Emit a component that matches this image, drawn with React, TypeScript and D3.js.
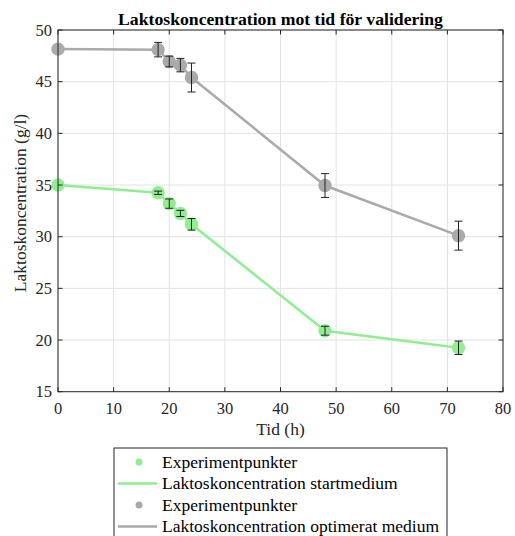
import React from "react";
import * as d3 from "d3";

const times = [0, 18, 20, 22, 24, 48, 72];
const startMedium = [35.0, 34.25, 33.2, 32.25, 31.2, 20.9, 19.25];
const startErr = [0, 0.16, 0.45, 0.3, 0.56, 0.43, 0.65];
const optMedium = [48.15, 48.1, 46.95, 46.6, 45.4, 34.95, 30.1];
const optErr = [0, 0.7, 0.52, 0.65, 1.4, 1.15, 1.4];
const xTicks = [0, 10, 20, 30, 40, 50, 60, 70, 80];
const yTicks = [15, 20, 25, 30, 35, 40, 45, 50];
const legendLabels = [
  "Experimentpunkter",
  "Laktoskoncentration startmedium",
  "Experimentpunkter",
  "Laktoskoncentration optimerat medium",
];

const W = 515;
const H = 536;
const M = { left: 58, right: 503, top: 30, bottom: 391.7 };
const GREEN = "#90ee90";
const GRAY = "#aaaaaa";
const AXIS = "#262626";
const TXT = { fontFamily: '"Liberation Serif"' };

export default function App() {
  const x = d3.scaleLinear().domain([0, 80]).range([M.left, M.right]);
  const y = d3.scaleLinear().domain([15, 50]).range([M.bottom, M.top]);
  const line = d3
    .line<number>()
    .x((_, i) => x(times[i]))
    .y((d) => y(d));

  const series = [
    { values: optMedium, err: optErr, color: GRAY },
    { values: startMedium, err: startErr, color: GREEN },
  ];

  return (
    <svg width={W} height={H} style={{ position: "absolute", left: 0, top: 0, background: "#fff" }}>
      {/* grid */}
      {xTicks.map((t) => (
        <line key={"gx" + t} x1={x(t)} x2={x(t)} y1={M.top} y2={M.bottom} stroke="#e3e3e3" strokeWidth={1} />
      ))}
      {yTicks.map((t) => (
        <line key={"gy" + t} x1={M.left} x2={M.right} y1={y(t)} y2={y(t)} stroke="#e3e3e3" strokeWidth={1} />
      ))}

      {/* series */}
      {series.map((s, si) => (
        <g key={si}>
          <path d={line(s.values) || ""} fill="none" stroke={s.color} strokeWidth={2.5} />
          {s.values.map((v, i) => (
            <circle key={i} cx={x(times[i])} cy={y(v)} r={6.7} fill={s.color} />
          ))}
          {s.values.map((v, i) =>
            s.err[i] > 0 ? (
              <g key={"e" + i} stroke="#222" strokeWidth={1}>
                <line x1={x(times[i])} x2={x(times[i])} y1={y(v - s.err[i])} y2={y(v + s.err[i])} />
                <line x1={x(times[i]) - 4} x2={x(times[i]) + 4} y1={y(v - s.err[i])} y2={y(v - s.err[i])} />
                <line x1={x(times[i]) - 4} x2={x(times[i]) + 4} y1={y(v + s.err[i])} y2={y(v + s.err[i])} />
              </g>
            ) : null
          )}
        </g>
      ))}

      {/* axes box and ticks */}
      <rect x={M.left} y={M.top} width={M.right - M.left} height={M.bottom - M.top} fill="none" stroke={AXIS} strokeWidth={1} />
      {xTicks.map((t) => (
        <g key={"tx" + t} stroke={AXIS}>
          <line x1={x(t)} x2={x(t)} y1={M.bottom} y2={M.bottom - 4.5} />
          <line x1={x(t)} x2={x(t)} y1={M.top} y2={M.top + 4.5} />
        </g>
      ))}
      {yTicks.map((t) => (
        <g key={"ty" + t} stroke={AXIS}>
          <line x1={M.left} x2={M.left + 4.5} y1={y(t)} y2={y(t)} />
          <line x1={M.right} x2={M.right - 4.5} y1={y(t)} y2={y(t)} />
        </g>
      ))}
      {xTicks.map((t) => (
        <text key={"lx" + t} x={x(t)} y={414} textAnchor="middle" fontSize={16.5} fill={AXIS} style={TXT}>
          {t}
        </text>
      ))}
      {yTicks.map((t) => (
        <text key={"ly" + t} x={M.left - 6} y={y(t) + 5.5} textAnchor="end" fontSize={16.5} fill={AXIS} style={TXT}>
          {t}
        </text>
      ))}

      {/* titles */}
      <text x={280.5} y={25} textAnchor="middle" fontSize={17.7} fontWeight="bold" fill="#000" style={TXT}>
        Laktoskoncentration mot tid för validering
      </text>
      <text x={(M.left + M.right) / 2} y={435} textAnchor="middle" fontSize={17.5} fill={AXIS} style={TXT}>
        Tid (h)
      </text>
      <text
        transform={`translate(26, 203) rotate(-90)`}
        textAnchor="middle"
        fontSize={17.5}
        fill={AXIS}
        style={TXT}
      >
        Laktoskoncentration (g/l)
      </text>

      {/* legend */}
      <rect x={114} y={448} width={333} height={100} fill="#fff" stroke={AXIS} strokeWidth={1} />
      {legendLabels.map((lab, i) => {
        const cy = 462 + i * 21.5;
        const color = i < 2 ? GREEN : GRAY;
        return (
          <g key={"lg" + i}>
            {i % 2 === 0 ? (
              <circle cx={139} cy={cy} r={3.5} fill={color} />
            ) : (
              <line x1={118} x2={157} y1={cy} y2={cy} stroke={color} strokeWidth={2.5} />
            )}
            <text x={162} y={cy + 5.5} fontSize={17.5} fill="#000" style={TXT}>
              {lab}
            </text>
          </g>
        );
      })}
    </svg>
  );
}
